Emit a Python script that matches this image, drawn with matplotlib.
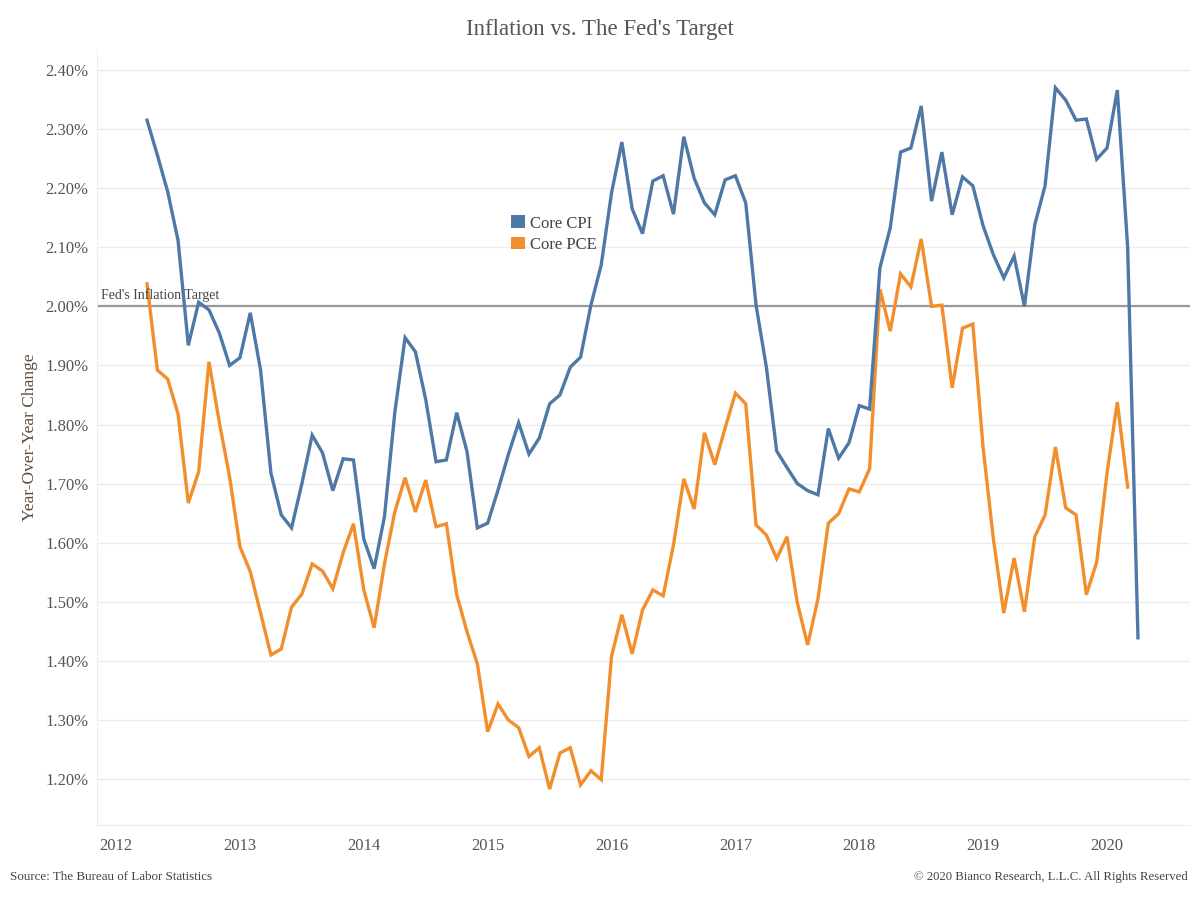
import numpy as np
import matplotlib
matplotlib.use("Agg")
import matplotlib.pyplot as plt
from matplotlib.patches import Patch

# ---- data (monthly, year-over-year %) ----
cpi_start = "2012-04"
pce_start = "2012-04"
core_cpi = [2.315, 2.256, 2.194, 2.112, 1.934, 2.007, 1.994, 1.955, 1.900,
            1.913, 1.989, 1.892, 1.718, 1.647, 1.625, 1.700, 1.782, 1.752, 1.688, 1.742, 1.740,
            1.606, 1.556, 1.644, 1.820, 1.947, 1.923, 1.842, 1.737, 1.740, 1.820, 1.754, 1.625,
            1.633, 1.689, 1.749, 1.803, 1.750, 1.777, 1.835, 1.850, 1.897, 1.914, 2.002, 2.070,
            2.192, 2.278, 2.165, 2.123, 2.212, 2.221, 2.156, 2.287, 2.217, 2.175, 2.155, 2.214,
            2.221, 2.175, 2.002, 1.897, 1.755, 1.727, 1.700, 1.688, 1.681, 1.793, 1.743, 1.769,
            1.832, 1.826, 2.065, 2.133, 2.261, 2.268, 2.339, 2.178, 2.261, 2.155, 2.219, 2.204,
            2.136, 2.087, 2.048, 2.085, 2.000, 2.138, 2.204, 2.370, 2.349, 2.315, 2.317, 2.249,
            2.268, 2.366, 2.100, 1.439]
core_pce = [2.038, 1.892, 1.877, 1.818, 1.667, 1.720, 1.906, 1.804, 1.711,
            1.593, 1.551, 1.481, 1.410, 1.420, 1.491, 1.513, 1.564, 1.552, 1.522, 1.583, 1.632,
            1.520, 1.456, 1.564, 1.652, 1.710, 1.652, 1.706, 1.627, 1.632, 1.512, 1.449, 1.395,
            1.280, 1.327, 1.300, 1.287, 1.238, 1.253, 1.183, 1.244, 1.253, 1.190, 1.214, 1.199,
            1.408, 1.478, 1.412, 1.486, 1.520, 1.510, 1.596, 1.708, 1.657, 1.786, 1.732, 1.794,
            1.853, 1.835, 1.630, 1.613, 1.573, 1.610, 1.498, 1.427, 1.505, 1.633, 1.649, 1.691,
            1.686, 1.725, 2.029, 1.958, 2.055, 2.033, 2.114, 2.000, 2.002, 1.862, 1.963, 1.970,
            1.760, 1.605, 1.481, 1.574, 1.483, 1.610, 1.647, 1.762, 1.659, 1.647, 1.512, 1.567,
            1.718, 1.838, 1.694]
fed_target = 2.0
years = list(range(2012, 2021))
yticks = [1.2, 1.3, 1.4, 1.5, 1.6, 1.7, 1.8, 1.9, 2.0, 2.1, 2.2, 2.3, 2.4]

def to_decimal(start, n):
    y, m = map(int, start.split("-"))
    return np.array([y + (m - 1 + i) / 12 for i in range(n)])

x_cpi = to_decimal(cpi_start, len(core_cpi))
x_pce = to_decimal(pce_start, len(core_pce))

plt.rcParams['font.family'] = ['Liberation Serif', 'DejaVu Serif']
txt = '#555555'

fig = plt.figure(figsize=(12, 9), dpi=100)
ax = fig.add_axes([97 / 1200, 75 / 900, 1093 / 1200, 775 / 900])

blue = '#4e79a7'
orange = '#f28e2b'

ax.axhline(fed_target, color='#9a9a9a', lw=1.6, zorder=2)
ax.plot(x_pce, core_pce, color=orange, lw=2.4, zorder=3, solid_joinstyle='miter')
ax.plot(x_cpi, core_cpi, color=blue, lw=2.4, zorder=4, solid_joinstyle='miter')

ax.set_xlim(2011.846, 2020.67)
ax.set_ylim(1.1222, 2.4338)
ax.set_yticks(yticks)
ax.set_yticklabels([f"{v:.2f}%" for v in yticks])
ax.set_xticks(years)
ax.set_xticklabels([str(y) for y in years])
ax.tick_params(axis='both', length=0, labelsize=12, colors=txt)
ax.tick_params(axis='x', pad=9)
ax.tick_params(axis='y', pad=6)
ax.grid(axis='y', color='#ececec', lw=1)
ax.set_axisbelow(True)
for s in ['top', 'right']:
    ax.spines[s].set_visible(False)
ax.spines['left'].set_color('#eeeeee')
ax.spines['bottom'].set_color('#eeeeee')

ax.set_ylabel("Year-Over-Year Change", fontsize=12.5, color='#5e4b3c', labelpad=5)

ax.text(2011.88, 2.008, "Fed's Inflation Target", fontsize=10, color='#444444',
        ha='left', va='bottom', zorder=5)

handles = [Patch(facecolor=blue, edgecolor='none', label='Core CPI'),
           Patch(facecolor=orange, edgecolor='none', label='Core PCE')]
fig.legend(handles=handles, loc='upper left', bbox_to_anchor=(503 / 1200, 1 - 207 / 900),
           frameon=False, fontsize=12, handlelength=0.8, handleheight=0.8,
           handletextpad=0.35, labelspacing=0.3, borderpad=0, labelcolor='#444444')

fig.text(0.5, 1 - 30 / 900, "Inflation vs. The Fed's Target", ha='center', va='center',
         fontsize=16.5, color=txt)
fig.text(10 / 1200, 1 - 877 / 900, "Source: The Bureau of Labor Statistics", ha='left',
         va='center', fontsize=9.4, color='#444444')
fig.text(1188 / 1200, 1 - 877 / 900, "\u00a9 2020 Bianco Research, L.L.C. All Rights Reserved",
         ha='right', va='center', fontsize=9.2, color='#444444')

fig.savefig("out.png", dpi=100, facecolor='white')
